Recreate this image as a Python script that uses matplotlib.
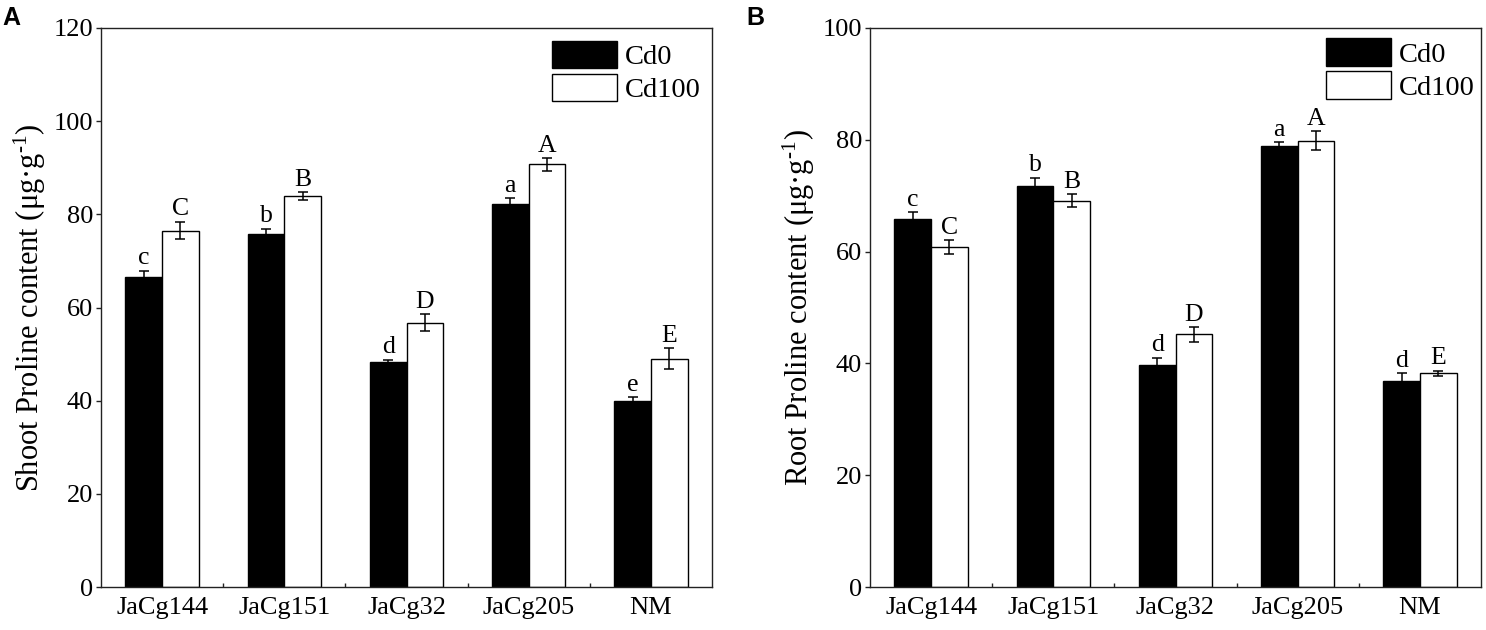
import matplotlib
matplotlib.use("Agg")
import matplotlib.pyplot as plt
import numpy as np
from matplotlib.ticker import FixedLocator

plt.rcParams['font.family'] = ['Liberation Serif', 'DejaVu Serif']
plt.rcParams['mathtext.fontset'] = 'custom'
plt.rcParams['mathtext.rm'] = 'Liberation Serif'
plt.rcParams['mathtext.it'] = 'Liberation Serif:italic'

categories = ['JaCg144', 'JaCg151', 'JaCg32', 'JaCg205', 'NM']
series = ['Cd0', 'Cd100']

shoot_cd0 = [66.6, 75.8, 48.4, 82.2, 40.0]
shoot_cd0_err = [1.3, 1.1, 0.4, 1.2, 0.7]
shoot_cd100 = [76.5, 83.9, 56.7, 90.7, 49.0]
shoot_cd100_err = [1.9, 0.9, 1.8, 1.4, 2.2]
shoot_cd0_letters = ['c', 'b', 'd', 'a', 'e']
shoot_cd100_letters = ['C', 'B', 'D', 'A', 'E']

root_cd0 = [65.9, 71.7, 39.8, 78.9, 36.9]
root_cd0_err = [1.1, 1.5, 1.2, 0.7, 1.4]
root_cd100 = [60.8, 69.1, 45.2, 79.8, 38.2]
root_cd100_err = [1.2, 1.2, 1.3, 1.7, 0.5]
root_cd0_letters = ['c', 'b', 'd', 'a', 'd']
root_cd100_letters = ['C', 'B', 'D', 'A', 'E']

shoot_yticks = [0, 20, 40, 60, 80, 100, 120]
root_yticks = [0, 20, 40, 60, 80, 100]

W, H = 1486, 630
fig = plt.figure(figsize=(W / 100, H / 100), dpi=100)

def px_axes(left, top, right, bottom):
    return fig.add_axes([left / W, 1 - bottom / H, (right - left) / W, (bottom - top) / H])

axA = px_axes(101, 28, 712, 587)
axB = px_axes(870, 28, 1481, 587)

bw = 0.3
spine_col = '#222222'

def draw(ax, v0, e0, v1, e1, l0, l1, yticks, ylabel, legx, legy):
    x = np.arange(len(categories))
    ax.bar(x - bw / 2, v0, bw, color='black', edgecolor='black', linewidth=1.0,
           label=series[0], zorder=2)
    ax.bar(x + bw / 2, v1, bw, color='white', edgecolor='black', linewidth=1.0,
           label=series[1], zorder=2)
    ax.errorbar(x - bw / 2, v0, yerr=e0, fmt='none', ecolor='black', elinewidth=1.1,
                capsize=3.4, capthick=1.1, zorder=3)
    ax.errorbar(x + bw / 2, v1, yerr=e1, fmt='none', ecolor='black', elinewidth=1.1,
                capsize=3.4, capthick=1.1, zorder=3)
    for xi, v, e, t in zip(x - bw / 2, v0, e0, l0):
        ax.annotate(t, (xi, v + e), xytext=(0, 1.0), textcoords='offset points',
                    ha='center', va='bottom', fontsize=18.5)
    for xi, v, e, t in zip(x + bw / 2, v1, e1, l1):
        ax.annotate(t, (xi, v + e), xytext=(0, 1.0), textcoords='offset points',
                    ha='center', va='bottom', fontsize=18.5)
    ax.set_xlim(-0.5, len(categories) - 0.5)
    ax.set_ylim(yticks[0], yticks[-1])
    ax.set_yticks(yticks)
    ax.set_xticks(x)
    ax.set_xticklabels(categories)
    ax.xaxis.set_minor_locator(FixedLocator(np.arange(0.5, len(categories) - 1, 1.0)))
    ax.tick_params(axis='x', which='major', length=0, pad=7, labelsize=19)
    ax.tick_params(axis='x', which='minor', direction='in', length=3.2, width=1.0, color=spine_col)
    ax.tick_params(axis='y', which='major', direction='out', length=3.6, width=1.0,
                   pad=2, labelsize=19, color=spine_col)
    for s in ax.spines.values():
        s.set_color(spine_col)
        s.set_linewidth(1.0)
    ax.set_ylabel(ylabel, fontsize=22, labelpad=4)
    ax.legend(loc='upper left', bbox_to_anchor=(legx, legy), frameon=False, fontsize=20.5,
              handlelength=2.28, handleheight=1.12, labelspacing=0.12, handletextpad=0.28,
              borderpad=0, borderaxespad=0)

draw(axA, shoot_cd0, shoot_cd0_err, shoot_cd100, shoot_cd100_err,
     shoot_cd0_letters, shoot_cd100_letters, shoot_yticks,
     'Shoot Proline content (μg·g$^{\\mathrm{\u2010}1}$)', (552 - 101) / 611, 1 - (40.7 - 28) / 559)
draw(axB, root_cd0, root_cd0_err, root_cd100, root_cd100_err,
     root_cd0_letters, root_cd100_letters, root_yticks,
     'Root Proline content (μg·g$^{\\mathrm{\u2010}1}$)', (1325.7 - 870) / 611, 1 - (38.3 - 28) / 559)

fig.text(2 / W, 1 - 6 / H, 'A', fontsize=18, fontweight='bold', family='Liberation Sans',
         ha='left', va='top')
fig.text(746 / W, 1 - 6 / H, 'B', fontsize=18, fontweight='bold', family='Liberation Sans',
         ha='left', va='top')

fig.savefig('out.png', dpi=100)
